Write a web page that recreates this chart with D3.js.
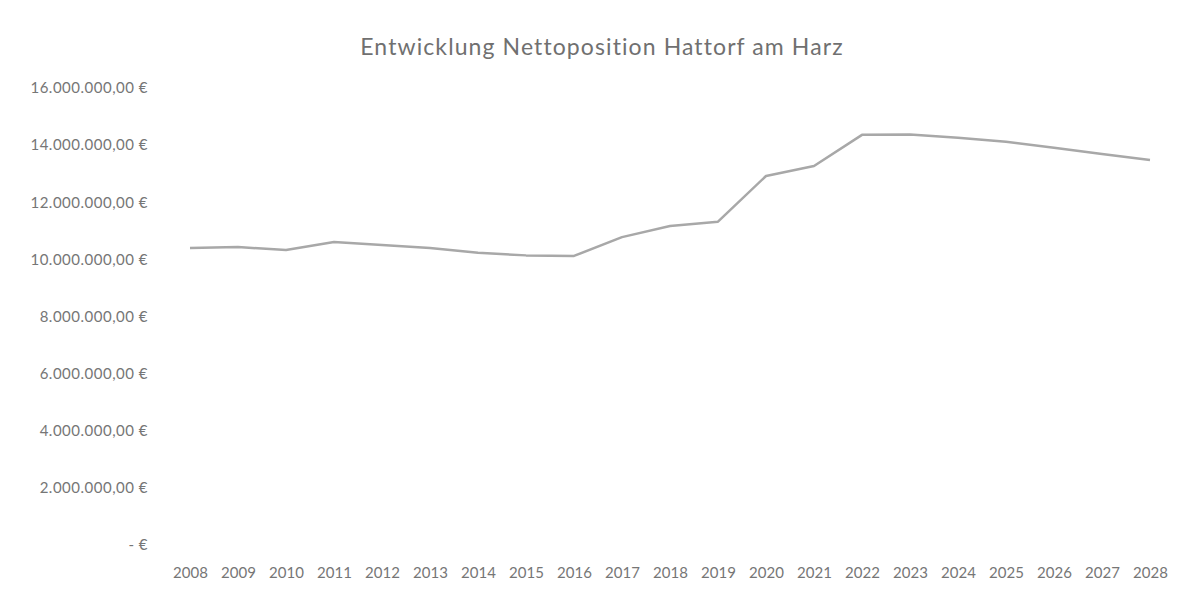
<!DOCTYPE html>
<html>
<head>
<meta charset="utf-8">
<script src="https://cdn.jsdelivr.net/npm/d3@7"></script>
<style>
  body { margin: 0; background: #fff; }
  text { font-family: Lato, "Open Sans", sans-serif; }
</style>
</head>
<body>
<script>
var title = "Entwicklung Nettoposition Hattorf am Harz";
var years = ["2008", "2009", "2010", "2011", "2012", "2013", "2014", "2015", "2016", "2017",
             "2018", "2019", "2020", "2021", "2022", "2023", "2024", "2025", "2026", "2027", "2028"];
var nettoposition = [10400000, 10430000, 10330000, 10610000, 10500000, 10400000, 10230000, 10140000,
                     10120000, 10780000, 11170000, 11320000, 12920000, 13270000, 14360000, 14370000,
                     14260000, 14120000, 13910000, 13690000, 13480000];
var yTicks = [0, 2000000, 4000000, 6000000, 8000000, 10000000, 12000000, 14000000, 16000000];

chart();

function chart()
{
        var width = 1195,
                height = 605;

        var svg = d3.select("body").append("svg")
                .attr("width", width)
                .attr("height", height);

        var de = d3.formatLocale({
                decimal: ",",
                thousands: ".",
                grouping: [3],
                currency: ["", " €"]
        });
        var fmt = de.format(",.2f");

        var xScale = d3.scalePoint()
                .domain(years)
                .range([190, 1150]);
        var yScale = d3.scaleLinear()
                .domain([0, 16000000])
                .range([545, 88]);

        svg.append("text")
                .attr("x", 602)
                .attr("y", 55)
                .attr("text-anchor", "middle")
                .attr("font-size", 23)
                .attr("letter-spacing", 1.1)
                .attr("fill", "#707070")
                .text(title);

        var yAxis = d3.axisLeft(yScale)
                .tickValues(yTicks)
                .tickSize(0)
                .tickPadding(0)
                .tickFormat(function (d) { return d === 0 ? "-   €" : fmt(d) + " €"; });

        var gy = svg.append("g")
                .attr("class", "y axis")
                .attr("transform", "translate(148,0)")
                .call(yAxis);
        gy.select(".domain").remove();
        gy.selectAll("text")
                .attr("font-size", 15)
                .attr("letter-spacing", 0.5)
                .attr("fill", "#767676");

        var xAxis = d3.axisBottom(xScale)
                .tickSize(0)
                .tickPadding(0);

        var gx = svg.append("g")
                .attr("class", "x axis")
                .attr("transform", "translate(0,567)")
                .call(xAxis);
        gx.select(".domain").remove();
        gx.selectAll("text")
                .attr("font-size", 15)
                .attr("fill", "#767676");

        var line = d3.line()
                .x(function (d, i) { return xScale(years[i]); })
                .y(function (d) { return yScale(d); });

        svg.append("path")
                .datum(nettoposition)
                .attr("fill", "none")
                .attr("stroke", "#a8a8a8")
                .attr("stroke-width", 2.5)
                .attr("stroke-linejoin", "round")
                .attr("d", line);
}
</script>
</body>
</html>
